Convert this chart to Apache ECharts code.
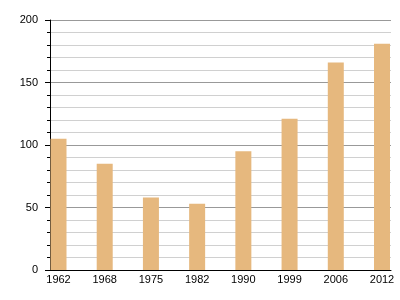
<!DOCTYPE html>
<html><head><meta charset="utf-8">
<script src="https://cdn.jsdelivr.net/npm/echarts@6/dist/echarts.min.js"></script>
<style>html,body{margin:0;padding:0;background:#fff}#c{width:400px;height:300px}</style>
</head><body><div id="c"></div>
<script>
var categories = ['1962','1968','1975','1982','1990','1999','2006','2012'];
var values = [105, 85, 58, 53, 95, 121, 166, 181];
var yMin = 0, yMax = 200, yStep = 50;

var chart = echarts.init(document.getElementById('c'), null, {renderer:'canvas'});
var font = {fontFamily:'Liberation Sans, Arial, sans-serif', fontSize:11, color:'#000'};
chart.setOption({
  animation:false,
  grid:[
    {left:50, right:9, top:20, bottom:30},
    {left:58.5, right:18, top:20, bottom:30}
  ],
  xAxis:[
    {gridIndex:0, type:'value', min:0, max:1, axisLine:{show:true, lineStyle:{color:'#000', width:1}},
     axisTick:{show:false}, axisLabel:{show:false}, splitLine:{show:false}},
    {gridIndex:1, type:'category', data:categories, boundaryGap:false,
     axisLine:{show:false}, axisTick:{show:false},
     axisLabel:Object.assign({margin:4, interval:0}, font)}
  ],
  yAxis:[
    {gridIndex:0, type:'value', min:yMin, max:yMax, interval:yStep,
     axisLine:{show:true, lineStyle:{color:'#000', width:1}},
     axisTick:{show:true, length:5, lineStyle:{color:'#000'}},
     minorTick:{show:true, splitNumber:5, length:3, lineStyle:{color:'#000'}},
     splitLine:{show:true, lineStyle:{color:'#999', width:1}},
     minorSplitLine:{show:true, lineStyle:{color:'#d0d0d0', width:1}},
     axisLabel:Object.assign({margin:12}, font)},
    {gridIndex:1, type:'value', min:yMin, max:yMax, show:false, splitLine:{show:false}}
  ],
  series:[{
    type:'bar', xAxisIndex:1, yAxisIndex:1, data:values, barWidth:16,
    itemStyle:{color:'#E6B87E'}
  }]
});
</script></body></html>
